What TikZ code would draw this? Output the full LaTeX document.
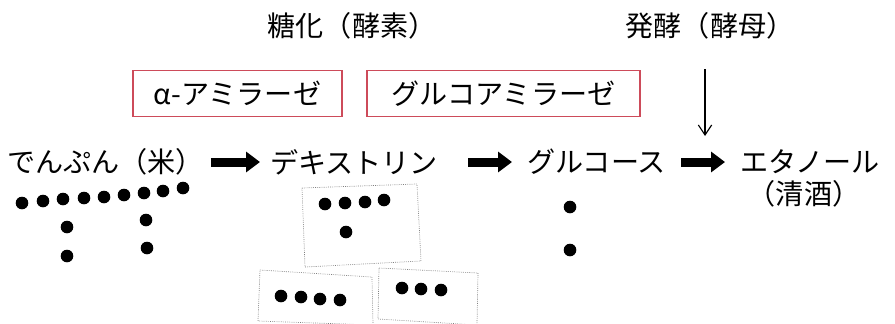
\documentclass[tikz,border=0pt]{standalone}
\usepackage{fontspec}
\newfontfamily\jpfont{Noto Sans CJK JP}
\usetikzlibrary{arrows.meta}
\definecolor{enzymered}{RGB}{205,75,90}

\begin{document}
\begin{tikzpicture}[x=0.03cm,y=-0.03cm]
        \tikzset{
          word/.style={font=\jpfont\fontsize{24}{24}\selectfont, inner sep=0pt},
          enzyme/.style={word, draw=enzymered, line width=1pt, minimum height=1.4cm},
          fat/.style={line width=0.27cm, -{Triangle[length=0.42cm, width=0.6cm]}},
          bead/.style={fill=black},
          frame/.style={draw=gray, densely dotted, line width=0.6pt}
        }
        \pgfmathsetmacro{\rb}{6.3}
        \useasboundingbox (0,0) rectangle (895,323);
        % headings
        \node[word] (saccharify) at (352,26) {糖化（酵素）};
        \node[word] (ferment) at (710,26) {発酵（酵母）};
        % enzymes
        \node[enzyme, minimum width=6.27cm] (amylase) at (237.5,93.5) {α-アミラーゼ};
        \node[enzyme, minimum width=8.19cm] (glucoamylase) at (503.5,93.5) {グルコアミラーゼ};
        % main row
        \node[word, anchor=west] (starch) at (7,162) {でんぷん（米）};
        \node[word, anchor=west] (dextrin) at (270,162) {デキストリン};
        \node[word, anchor=west] (glucose) at (527,162) {グルコース};
        \node[word, anchor=west] (ethanol) at (740,162) {エタノール};
        \node[word] (sake) at (804,194) {（清酒）};
        \draw[fat, shorten <=0.2cm, shorten >=0.3cm] (starch.east) -- (dextrin.west);
        \draw[fat, shorten <=0.9cm, shorten >=0.45cm] (dextrin.east) -- (glucose.west);
        \draw[fat, shorten <=0.45cm, shorten >=0.45cm] (glucose.east) -- (ethanol.west);
        % yeast arrow
        \coordinate (yeastTop) at (705,69);
        \coordinate (yeastEnd) at (705,136);
        \draw[line width=1pt, -{Straight Barb[length=0.3cm, width=0.4cm]}] (yeastTop) -- (yeastEnd);
        % starch chain
        \foreach \x/\y in {22/203, 43/201, 63/199, 84/198, 104/197, 124/195, 144/193, 163/191, 183/188,
                           67/227, 67/256, 146/220, 147/248}
          \fill[bead] (\x,\y) circle (\rb);
        % dextrin pieces
        \draw[frame] (302,188) -- (417,184) -- (421,261) -- (305,267) -- cycle;
        \draw[frame] (260,270) -- (372,277) -- (373,325) -- (258,321) -- cycle;
        \draw[frame] (379,268) -- (478,273) -- (477,325) -- (378,319) -- cycle;
        \foreach \x/\y in {325/204, 345/203, 365/202, 384/200, 346/232,
                           281/296, 301/297, 320/299, 340/300,
                           402/288, 421/289, 441/290}
          \fill[bead] (\x,\y) circle (\rb);
        % glucose
        \foreach \x/\y in {570/207, 570/250}
          \fill[bead] (\x,\y) circle (\rb);
\end{tikzpicture}
\end{document}
